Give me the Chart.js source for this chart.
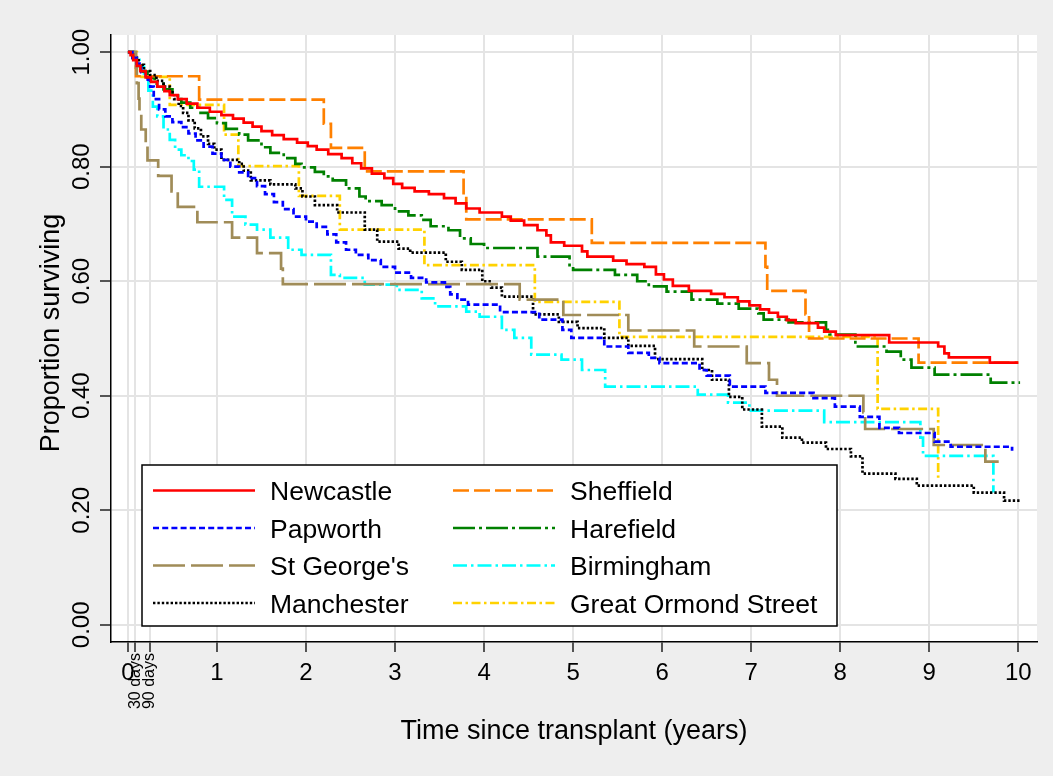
<!DOCTYPE html>
<html>
<head>
<meta charset="utf-8">
<title>Survival by transplant centre</title>
<script src="https://cdn.jsdelivr.net/npm/chart.js@4.4.1/dist/chart.umd.min.js"></script>
<style>
  html, body { margin: 0; padding: 0; background: #eeeeee; }
  #wrap { width: 1053px; height: 776px; }
</style>
</head>
<body>
<div id="wrap"><canvas id="km" width="1053" height="776"></canvas></div>
<script>
// Kaplan-Meier steps per centre: [years since transplant, proportion surviving]
const hospitals = ['Newcastle', 'Papworth', "St George's", 'Manchester',
                   'Sheffield', 'Harefield', 'Birmingham', 'Great Ormond Street'];

const newcastle = [[0,1],[0.03,0.995],[0.06,0.986],[0.1,0.976],[0.14,0.967],[0.2,0.956],[0.26,0.948],
  [0.33,0.94],[0.41,0.932],[0.47,0.925],[0.56,0.918],[0.66,0.91],[0.78,0.903],[0.92,0.896],[1.05,0.89],
  [1.18,0.884],[1.3,0.877],[1.4,0.87],[1.5,0.862],[1.62,0.855],[1.75,0.848],[1.9,0.842],[2.02,0.836],
  [2.12,0.83],[2.25,0.822],[2.4,0.815],[2.52,0.806],[2.62,0.797],[2.74,0.788],[2.88,0.78],[2.98,0.77],
  [3.08,0.763],[3.22,0.757],[3.38,0.752],[3.55,0.745],[3.68,0.736],[3.8,0.727],[3.95,0.72],[4.2,0.713],
  [4.3,0.706],[4.45,0.698],[4.6,0.689],[4.7,0.68],[4.75,0.668],[4.9,0.662],[5.1,0.652],[5.16,0.643],
  [5.45,0.636],[5.6,0.63],[5.8,0.625],[5.93,0.612],[6.02,0.603],[6.12,0.592],[6.3,0.583],[6.55,0.578],
  [6.7,0.572],[6.85,0.565],[6.98,0.558],[7.1,0.551],[7.2,0.545],[7.3,0.538],[7.4,0.532],[7.5,0.527],
  [7.75,0.519],[7.82,0.512],[7.95,0.506],[8.55,0.493],[9.1,0.486],[9.17,0.474],[9.22,0.467],[9.68,0.458],
  [10.0,0.458]];

const papworth = [[0,1],[0.05,0.99],[0.1,0.98],[0.15,0.965],[0.2,0.952],[0.25,0.94],[0.29,0.918],
  [0.35,0.9],[0.42,0.888],[0.5,0.878],[0.6,0.869],[0.68,0.858],[0.76,0.846],[0.85,0.835],[0.95,0.823],
  [1.05,0.812],[1.15,0.8],[1.25,0.79],[1.35,0.78],[1.45,0.766],[1.54,0.752],[1.64,0.738],[1.74,0.726],
  [1.86,0.713],[2.0,0.704],[2.12,0.695],[2.24,0.682],[2.34,0.668],[2.45,0.655],[2.56,0.646],[2.7,0.637],
  [2.84,0.625],[3.0,0.615],[3.18,0.606],[3.35,0.598],[3.56,0.59],[3.62,0.577],[3.7,0.568],[3.82,0.559],
  [4.18,0.546],[4.62,0.533],[4.88,0.515],[4.98,0.501],[5.35,0.486],[5.62,0.475],[5.85,0.466],[5.97,0.457],
  [6.42,0.445],[6.5,0.435],[6.76,0.416],[7.16,0.405],[7.7,0.396],[7.94,0.381],[8.22,0.363],[8.44,0.344],
  [8.66,0.335],[9.06,0.32],[9.24,0.311],[9.93,0.304]];

const stGeorges = [[0,1],[0.09,0.973],[0.1,0.946],[0.12,0.919],[0.13,0.892],[0.15,0.865],[0.2,0.838],
  [0.22,0.811],[0.34,0.784],[0.49,0.757],[0.56,0.73],[0.78,0.703],[1.17,0.676],[1.45,0.649],[1.72,0.622],
  [1.74,0.595],[4.4,0.568],[4.89,0.541],[5.62,0.514],[6.36,0.486],[6.95,0.457],[7.2,0.428],[7.29,0.4],
  [8.26,0.371],[8.28,0.342],[9.05,0.314],[9.63,0.285],[9.78,0.285]];

const manchester = [[0,1],[0.06,0.99],[0.12,0.978],[0.18,0.967],[0.25,0.96],[0.32,0.95],[0.4,0.94],
  [0.47,0.93],[0.52,0.918],[0.57,0.906],[0.62,0.894],[0.68,0.881],[0.75,0.867],[0.82,0.853],[0.9,0.84],
  [0.97,0.83],[1.05,0.812],[1.25,0.805],[1.3,0.793],[1.38,0.776],[1.6,0.769],[1.88,0.762],[1.96,0.748],
  [2.1,0.733],[2.35,0.72],[2.66,0.69],[2.8,0.669],[3.04,0.657],[3.17,0.65],[3.57,0.634],[3.75,0.62],
  [3.98,0.6],[4.08,0.589],[4.2,0.573],[4.55,0.542],[4.84,0.529],[5.05,0.518],[5.35,0.501],[5.62,0.487],
  [5.92,0.464],[6.45,0.445],[6.56,0.428],[6.75,0.398],[6.9,0.376],[7.12,0.346],[7.35,0.327],[7.57,0.318],
  [7.84,0.307],[8.12,0.294],[8.25,0.264],[8.62,0.255],[8.86,0.243],[9.5,0.231],[9.84,0.217],[10.02,0.217]];

const sheffield = [[0,1],[0.09,0.958],[0.8,0.917],[2.2,0.875],[2.28,0.833],[2.66,0.792],[3.77,0.75],
  [3.8,0.708],[5.21,0.667],[7.16,0.625],[7.18,0.583],[7.61,0.542],[7.65,0.5],[8.88,0.458],[10.0,0.458]];

const harefield = [[0,1],[0.05,0.99],[0.1,0.977],[0.15,0.966],[0.22,0.955],[0.3,0.945],[0.4,0.935],
  [0.5,0.924],[0.6,0.912],[0.7,0.903],[0.8,0.894],[0.9,0.885],[1.0,0.876],[1.1,0.866],[1.25,0.856],
  [1.35,0.846],[1.5,0.834],[1.6,0.824],[1.75,0.815],[1.88,0.805],[1.95,0.799],[2.1,0.791],[2.2,0.783],
  [2.3,0.776],[2.45,0.762],[2.6,0.748],[2.67,0.74],[2.85,0.733],[3.0,0.722],[3.15,0.715],[3.3,0.707],
  [3.4,0.696],[3.6,0.689],[3.73,0.675],[3.85,0.665],[4.0,0.658],[4.6,0.643],[4.96,0.628],[5.0,0.62],
  [5.47,0.611],[5.72,0.6],[5.85,0.591],[6.05,0.582],[6.33,0.568],[6.62,0.561],[6.86,0.552],[7.08,0.544],
  [7.14,0.533],[7.42,0.528],[7.84,0.515],[7.88,0.507],[8.17,0.486],[8.52,0.477],[8.68,0.463],[8.8,0.449],
  [9.06,0.437],[9.69,0.423],[10.02,0.423]];

const birmingham = [[0,1],[0.08,0.99],[0.13,0.975],[0.18,0.957],[0.23,0.933],[0.28,0.905],[0.33,0.888],
  [0.4,0.865],[0.47,0.847],[0.53,0.83],[0.6,0.82],[0.68,0.81],[0.74,0.795],[0.8,0.765],[1.08,0.742],
  [1.17,0.713],[1.32,0.699],[1.45,0.69],[1.6,0.676],[1.8,0.655],[1.95,0.646],[2.28,0.611],[2.38,0.606],
  [2.66,0.594],[3.02,0.585],[3.3,0.57],[3.45,0.556],[3.8,0.547],[3.95,0.538],[4.2,0.515],[4.34,0.501],
  [4.53,0.472],[4.87,0.463],[5.1,0.445],[5.36,0.416],[6.4,0.402],[6.74,0.388],[6.98,0.374],[7.82,0.354],
  [8.9,0.327],[8.93,0.295],[9.72,0.231]];

const greatOrmond = [[0,1],[0.1,0.957],[0.47,0.908],[1.08,0.856],[1.24,0.801],[1.92,0.749],[2.38,0.69],
  [3.33,0.628],[4.57,0.564],[5.52,0.503],[8.42,0.377],[9.1,0.257]];

const curves = [newcastle, papworth, stGeorges, manchester, sheffield, harefield, birmingham, greatOrmond];

// axis ticks
const xTickValues = [0, 30 / 365.25, 90 / 365.25, 1, 2, 3, 4, 5, 6, 7, 8, 9, 10];
const xTickLabels = ['0', '', '', '1', '2', '3', '4', '5', '6', '7', '8', '9', '10'];
const dayMarks = [30, 90];
const dayLabels = ['30 days', '90 days'];
const yTickValues = [0, 0.2, 0.4, 0.6, 0.8, 1.0];
const yTickLabels = ['0.00', '0.20', '0.40', '0.60', '0.80', '1.00'];
const xTitle = 'Time since transplant (years)';
const yTitle = 'Proportion surviving';

// line styles (Stata-like)
const lineColors = ['#ff0000', '#0000ff', '#a08c58', '#000000', '#ff8000', '#008000', '#00ffff', '#ffd200'];
const lineDashes = [[], [6, 3.2], [32, 6], [2.4, 2], [16, 5], [22, 4, 3, 4], [14, 4, 2.5, 4], [9, 3.5, 2.5, 3.5]];

const FONT = '"Liberation Sans", Arial, Helvetica, sans-serif';

const stataDecor = {
  id: 'stataDecor',
  beforeDraw(chart) {
    const { ctx, chartArea: a } = chart;
    ctx.save();
    ctx.fillStyle = '#eeeeee';
    ctx.fillRect(0, 0, chart.width, chart.height);
    ctx.fillStyle = '#ffffff';
    ctx.fillRect(a.left, a.top, a.right - a.left, a.bottom - a.top);
    ctx.restore();
  },
  afterDraw(chart) {
    const { ctx, chartArea: a, scales: { x, y } } = chart;
    ctx.save();
    ctx.fillStyle = '#000';

    // y tick labels, turned like Stata does
    ctx.font = `24px ${FONT}`;
    ctx.textAlign = 'center';
    ctx.textBaseline = 'alphabetic';
    yTickValues.forEach((v, i) => {
      ctx.save();
      ctx.translate(89, y.getPixelForValue(v));
      ctx.rotate(-Math.PI / 2);
      ctx.fillText(yTickLabels[i], 0, 0);
      ctx.restore();
    });

    // 30 / 90 day marks
    ctx.font = `16px ${FONT}`;
    ctx.textAlign = 'right';
    ctx.textBaseline = 'middle';
    dayMarks.forEach((d, i) => {
      ctx.save();
      ctx.translate(x.getPixelForValue(d / 365.25), 653);
      ctx.rotate(-Math.PI / 2);
      ctx.fillText(dayLabels[i], 0, 0);
      ctx.restore();
    });

    // axis titles
    ctx.font = `27px ${FONT}`;
    ctx.textAlign = 'center';
    ctx.textBaseline = 'alphabetic';
    ctx.fillText(xTitle, (a.left + a.right) / 2, 739);
    ctx.save();
    ctx.translate(59, 333);
    ctx.rotate(-Math.PI / 2);
    ctx.fillText(yTitle, 0, 0);
    ctx.restore();

    // legend box, two columns filled top to bottom
    const box = { left: 142, top: 465, right: 837, bottom: 626 };
    ctx.fillStyle = '#ffffff';
    ctx.fillRect(box.left, box.top, box.right - box.left, box.bottom - box.top);
    ctx.strokeStyle = '#000';
    ctx.lineWidth = 1.5;
    ctx.strokeRect(box.left, box.top, box.right - box.left, box.bottom - box.top);

    ctx.font = `26.5px ${FONT}`;
    ctx.textAlign = 'left';
    ctx.textBaseline = 'alphabetic';
    chart.data.datasets.forEach((ds, i) => {
      const col = Math.floor(i / 4), row = i % 4;
      const ly = 490.5 + row * 37.5;
      const x0 = col === 0 ? 153 : 453;
      ctx.save();
      ctx.strokeStyle = ds.borderColor;
      ctx.lineWidth = 2.4;
      ctx.setLineDash(ds.borderDash);
      ctx.beginPath();
      ctx.moveTo(x0, ly);
      ctx.lineTo(x0 + 102, ly);
      ctx.stroke();
      ctx.restore();
      ctx.fillStyle = '#000';
      ctx.fillText(ds.label, x0 + 117, ly + 9.5);
    });
    ctx.restore();
  }
};

new Chart(document.getElementById('km'), {
  type: 'line',
  data: {
    datasets: hospitals.map((name, i) => ({
      label: name,
      data: curves[i].map(([t, s]) => ({ x: t, y: s })),
      borderColor: lineColors[i],
      borderDash: lineDashes[i],
      borderWidth: 2.7,
      stepped: true,
      pointRadius: 0,
      fill: false,
      tension: 0
    }))
  },
  options: {
    responsive: false,
    animation: false,
    events: [],
    layout: { padding: { top: 35, right: 16, bottom: 0, left: 0 }, autoPadding: false },
    plugins: { legend: { display: false }, tooltip: { enabled: false } },
    scales: {
      x: {
        type: 'linear',
        min: -0.19,
        max: 10.21,
        afterBuildTicks: s => { s.ticks = xTickValues.map(v => ({ value: v })); },
        afterFit: s => { s.height = 134; },
        ticks: {
          autoSkip: false,
          maxRotation: 0,
          padding: 7,
          color: '#000',
          font: { family: FONT, size: 24 },
          callback: (v, i) => xTickLabels[i]
        },
        grid: { color: '#e4e4e4', lineWidth: 2, tickColor: '#000', tickWidth: 1.3, tickLength: 10 },
        border: { color: '#000', width: 1.5 }
      },
      y: {
        type: 'linear',
        min: -0.03,
        max: 1.03,
        afterBuildTicks: s => { s.ticks = yTickValues.map(v => ({ value: v })); },
        afterFit: s => { s.width = 111; },
        ticks: { display: false },
        grid: { color: '#e4e4e4', lineWidth: 2, tickColor: '#000', tickWidth: 1.3, tickLength: 11 },
        border: { color: '#000', width: 1.5 }
      }
    }
  },
  plugins: [stataDecor]
});
</script>
</body>
</html>
